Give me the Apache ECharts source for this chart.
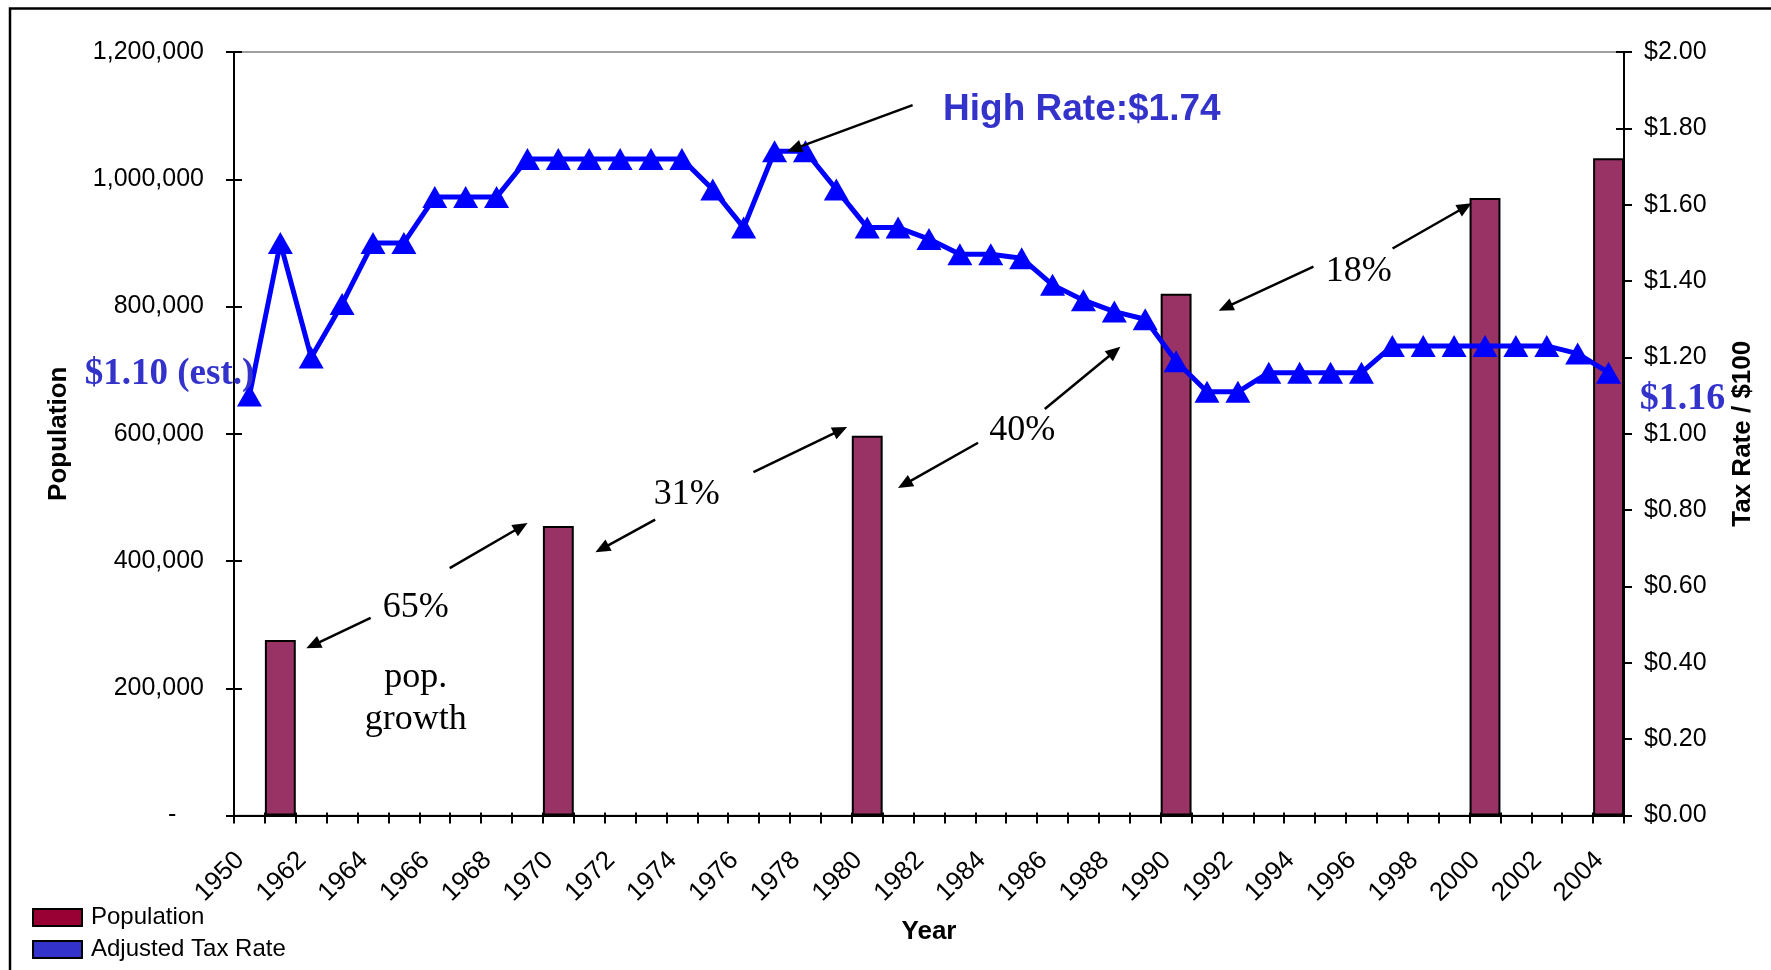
<!DOCTYPE html>
<html>
<head>
<meta charset="utf-8">
<title>Population and Adjusted Tax Rate</title>
<script src="https://cdn.jsdelivr.net/npm/echarts@6/dist/echarts.min.js"></script>
<style>
  html, body { margin: 0; padding: 0; background: #fff; }
  #chart { width: 1771px; height: 970px; }
</style>
</head>
<body>
<div id="chart"></div>
<script>
// ---- data ----
const years = ['1950', '1961', '1962', '1963', '1964', '1965', '1966', '1967', '1968', '1969',
  '1970', '1971', '1972', '1973', '1974', '1975', '1976', '1977', '1978', '1979',
  '1980', '1981', '1982', '1983', '1984', '1985', '1986', '1987', '1988', '1989',
  '1990', '1991', '1992', '1993', '1994', '1995', '1996', '1997', '1998', '1999',
  '2000', '2001', '2002', '2003', '2004'];

// adjusted tax rate per $100 of valuation, one value per category
const taxRate = [1.10, 1.50, 1.20, 1.34, 1.50, 1.50, 1.62, 1.62, 1.62, 1.72,
  1.72, 1.72, 1.72, 1.72, 1.72, 1.64, 1.54, 1.74, 1.74, 1.64,
  1.54, 1.54, 1.51, 1.47, 1.47, 1.46, 1.39, 1.35, 1.32, 1.30,
  1.19, 1.11, 1.11, 1.16, 1.16, 1.16, 1.16, 1.23, 1.23, 1.23,
  1.23, 1.23, 1.23, 1.21, 1.16];

// population counts (only for the years where they were recorded)
const popYears = ['1961', '1970', '1980', '1990', '2000', '2004'];
const popValues = [276000, 455000, 597000, 820000, 970500, 1033000];

const popTicks = { min: 0, max: 1200000, step: 200000 };
const rateTicks = { min: 0, max: 2, step: 0.2 };

// ---- layout ----
const SANS = 'Liberation Sans, Arial, sans-serif';
const SERIF = 'Liberation Serif, Times New Roman, serif';
const plot = { left: 234, top: 52, right: 1624, bottom: 815.5 };
const plotW = plot.right - plot.left;
const plotH = plot.bottom - plot.top;

const population = years.map(y => {
  const i = popYears.indexOf(y);
  return i >= 0 ? popValues[i] : null;
});

const thousands = v => String(v).replace(/\B(?=(\d{3})+(?!\d))/g, ',');

const tickStyle = { color: '#000', width: 2 };
const axisLineStyle = { lineStyle: { color: '#000', width: 2 } };
const labelFont = { fontFamily: SANS, fontSize: 25, color: '#000' };
const nameFont = { fontFamily: SANS, fontSize: 26, fontWeight: 'bold', color: '#000' };

const chart = echarts.init(document.getElementById('chart'), null, { renderer: 'canvas' });

// annotation placement, as fractions of the plot area (0,0 = bottom-left)
const notes = [
  { text: 'High Rate:$1.74', at: [0.5101, 0.929], align: 'left', font: 'bold 37px ' + SANS, fill: '#3333cc' },
  { text: '$1.10 (est.)', at: [0.0146, 0.5828], align: 'right', font: 'bold 37px ' + SERIF, fill: '#3333cc' },
  { text: '$1.16', at: [1.0114, 0.5503], align: 'left', font: 'bold 38px ' + SERIF, fill: '#3333cc' },
  { text: '65%', at: [0.1308, 0.2766], align: 'center', font: '36px ' + SERIF, fill: '#000' },
  { text: 'pop.', at: [0.1308, 0.1849], align: 'center', font: '36px ' + SERIF, fill: '#000' },
  { text: 'growth', at: [0.1308, 0.1302], align: 'center', font: '36px ' + SERIF, fill: '#000' },
  { text: '31%', at: [0.3258, 0.4246], align: 'center', font: '36px ' + SERIF, fill: '#000' },
  { text: '40%', at: [0.5670, 0.5089], align: 'center', font: '36px ' + SERIF, fill: '#000' },
  { text: '18%', at: [0.8091, 0.7175], align: 'center', font: '36px ' + SERIF, fill: '#000' }
];
const textDrop = 3.5; // text boxes sit slightly below their anchor
const arrows = [
  [[0.0983, 0.2589], [0.0520, 0.2189]],
  [[0.1552, 0.3240], [0.2112, 0.3831]],
  [[0.3030, 0.3876], [0.2600, 0.3447]],
  [[0.3737, 0.4497], [0.4411, 0.5089]],
  [[0.5353, 0.4882], [0.4777, 0.4290]],
  [[0.5833, 0.5325], [0.6377, 0.6139]],
  [[0.7766, 0.7189], [0.7084, 0.6612]],
  [[0.8335, 0.7426], [0.8904, 0.8018]],
  [[0.4882, 0.9305], [0.3980, 0.8698]]
];

function toPx(f) {
  return [plot.left + f[0] * plotW, plot.bottom - f[1] * plotH];
}

function buildGraphics() {
  const els = [];
  // outer frame of the chart
  els.push({
    type: 'rect', silent: true, z: 0,
    shape: { x: 10, y: 8.5, width: 1800, height: 1000 },
    style: { fill: null, stroke: '#000', lineWidth: 2.5 }
  });
  notes.forEach(n => {
    const p = toPx(n.at);
    els.push({
      type: 'text', x: p[0], y: p[1] + textDrop, z: 100, silent: true,
      style: { text: n.text, font: n.font, fill: n.fill, textAlign: n.align, textVerticalAlign: 'middle' }
    });
  });
  const headLen = 15, headHalf = 6.5;
  arrows.forEach(a => {
    const s = toPx(a[0]), t = toPx(a[1]);
    const dx = t[0] - s[0], dy = t[1] - s[1];
    const len = Math.sqrt(dx * dx + dy * dy);
    const ux = dx / len, uy = dy / len;
    const bx = t[0] - ux * headLen, by = t[1] - uy * headLen;
    els.push({
      type: 'line', z: 100, silent: true,
      shape: { x1: s[0], y1: s[1], x2: bx + ux * 2, y2: by + uy * 2 },
      style: { stroke: '#000', lineWidth: 2.5 }
    });
    els.push({
      type: 'polygon', z: 100, silent: true,
      shape: { points: [t, [bx - uy * headHalf, by + ux * headHalf], [bx + uy * headHalf, by - ux * headHalf]] },
      style: { fill: '#000' }
    });
  });
  return els;
}

const option = {
  animation: false,
  backgroundColor: '#fff',
  grid: {
    left: plot.left, top: plot.top, right: 1771 - plot.right, bottom: 970 - plot.bottom,
    show: true, borderColor: '#808080', borderWidth: 1.5, backgroundColor: 'transparent'
  },
  legend: {
    orient: 'vertical', left: 32, top: 905.5, padding: 0,
    itemWidth: 49, itemHeight: 17, itemGap: 8,
    textStyle: { fontFamily: SANS, fontSize: 24, color: '#000', padding: [0, 0, 0, 4] },
    data: [
      { name: 'Population', icon: 'rect', itemStyle: { color: '#990033', borderColor: '#000', borderWidth: 2 } },
      { name: 'Adjusted Tax Rate', icon: 'rect', itemStyle: { color: '#3333cc', borderColor: '#000', borderWidth: 2 } }
    ]
  },
  xAxis: [
    {
      type: 'category', data: years, position: 'bottom', boundaryGap: true,
      axisLine: axisLineStyle,
      axisTick: { show: true, interval: 0, length: 8, lineStyle: tickStyle },
      axisLabel: { interval: 1, rotate: 45, margin: 50, verticalAlign: 'bottom',
        fontFamily: SANS, fontSize: 26, color: '#000' },
      splitLine: { show: false },
      name: 'Year', nameLocation: 'middle', nameGap: 103, nameTextStyle: nameFont
    },
    {
      type: 'category', data: years, position: 'bottom', boundaryGap: true,
      axisLine: { show: false },
      axisTick: { show: true, inside: true, interval: 0, length: 3, lineStyle: tickStyle },
      axisLabel: { show: false }, splitLine: { show: false }
    }
  ],
  yAxis: [
    {
      type: 'value', position: 'left', min: popTicks.min, max: popTicks.max, interval: popTicks.step,
      axisLine: Object.assign({ show: true }, axisLineStyle),
      axisTick: { show: true, length: 8, lineStyle: tickStyle },
      axisLabel: Object.assign({ margin: 30, formatter: v => (v === 0 ? '-    ' : thousands(v)) }, labelFont),
      splitLine: { show: false },
      name: 'Population', nameLocation: 'middle', nameRotate: 90, nameGap: 162, nameTextStyle: nameFont
    },
    {
      type: 'value', position: 'right', min: rateTicks.min, max: rateTicks.max, interval: rateTicks.step,
      axisLine: Object.assign({ show: true }, axisLineStyle),
      axisTick: { show: true, length: 8, lineStyle: tickStyle },
      axisLabel: Object.assign({ margin: 20, formatter: v => '$' + v.toFixed(2) }, labelFont),
      splitLine: { show: false },
      name: 'Tax Rate / $100', nameLocation: 'middle', nameRotate: 90, nameGap: 106, nameTextStyle: nameFont
    },
    {
      type: 'value', position: 'left', min: popTicks.min, max: popTicks.max, interval: popTicks.step,
      axisLine: { show: false }, axisLabel: { show: false }, splitLine: { show: false },
      axisTick: { show: true, inside: true, length: 8, lineStyle: tickStyle }
    },
    {
      type: 'value', position: 'right', min: rateTicks.min, max: rateTicks.max, interval: rateTicks.step,
      axisLine: { show: false }, axisLabel: { show: false }, splitLine: { show: false },
      axisTick: { show: true, inside: true, length: 8, lineStyle: tickStyle }
    }
  ],
  series: [
    {
      name: 'Population', type: 'bar', xAxisIndex: 0, yAxisIndex: 0,
      data: population, barWidth: '100%',
      itemStyle: { color: '#993366', borderColor: '#000', borderWidth: 2 }
    },
    {
      name: 'Adjusted Tax Rate', type: 'line', xAxisIndex: 0, yAxisIndex: 1,
      data: taxRate, symbol: 'triangle', symbolSize: [25, 22], showAllSymbol: true,
      lineStyle: { color: '#0000ff', width: 5 },
      itemStyle: { color: '#0000ff' }
    }
  ],
  graphic: buildGraphics()
};

chart.setOption(option);
</script>
</body>
</html>
